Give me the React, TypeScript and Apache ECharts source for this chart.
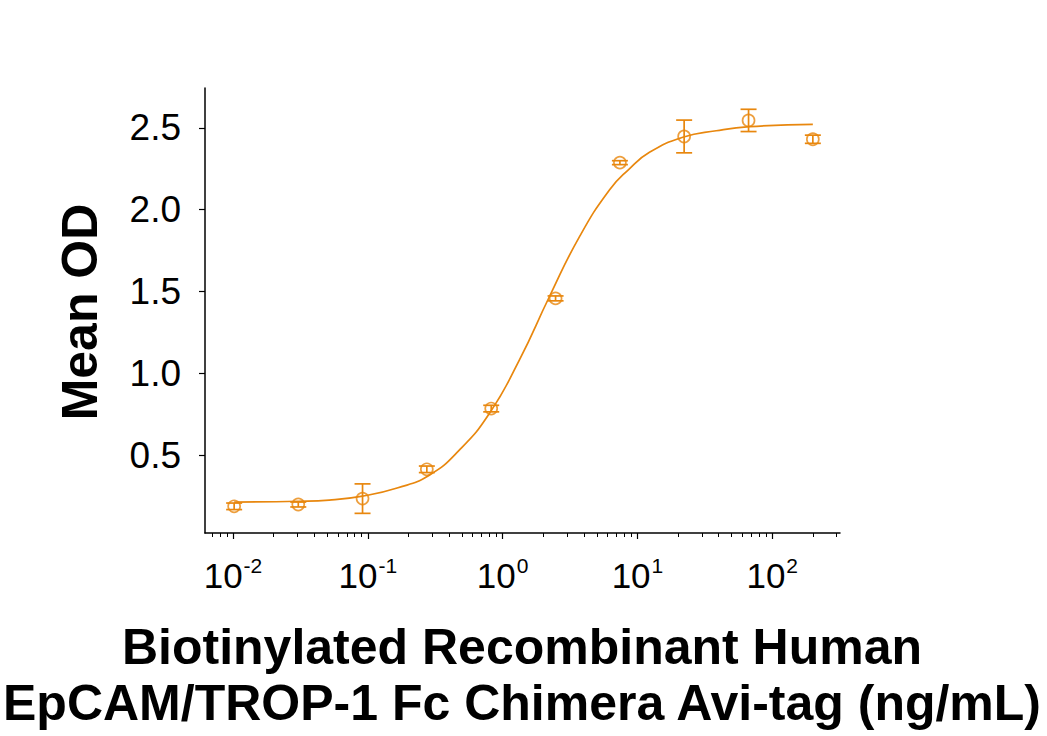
import React, { useEffect, useRef } from "react";
import * as echarts from "echarts";

// ---- Data ----
const concentrations = [0.0102, 0.0305, 0.0914, 0.274, 0.823, 2.47, 7.41, 22.2, 66.7, 200];
const meanOD = [0.188, 0.199, 0.235, 0.414, 0.785, 1.458, 2.287, 2.447, 2.545, 2.43];
const errorOD = [0.02, 0.015, 0.09, 0.02, 0.02, 0.015, 0.012, 0.1, 0.068, 0.025];

const curveX = [0.0102, 0.0305, 0.0517, 0.0914, 0.165, 0.2856, 0.4771, 0.797, 1.33, 2.222, 3.71, 6.197, 8.6, 12.28, 21.7, 38.4, 67.9, 200];
const curveY = [0.214, 0.219, 0.226, 0.25, 0.3, 0.378, 0.531, 0.755, 1.081, 1.468, 1.834, 2.12, 2.245, 2.35, 2.442, 2.482, 2.507, 2.521];

const yTicks = [0.5, 1.0, 1.5, 2.0, 2.5];
const xMajorTicks = [0.01, 0.1, 1, 10, 100];
const xMinorTicks = [
  0.007, 0.008, 0.009,
  0.02, 0.03, 0.04, 0.05, 0.06, 0.07, 0.08, 0.09,
  0.2, 0.3, 0.4, 0.5, 0.6, 0.7, 0.8, 0.9,
  2, 3, 4, 5, 6, 7, 8, 9,
  20, 30, 40, 50, 60, 70, 80, 90,
  200, 300,
];

const yTitle = "Mean OD";
const xTitleLines = ["Biotinylated Recombinant Human", "EpCAM/TROP-1 Fc Chimera Avi-tag (ng/mL)"];

const ORANGE = "#E8870E";
const FONT = '"Liberation Sans", Arial, sans-serif';

export default function App() {
  const ref = useRef<HTMLDivElement>(null);

  useEffect(() => {
    if (!ref.current) return;
    const chart = echarts.init(ref.current, undefined, { renderer: "svg" });

    const points = concentrations.map((c, i) => [c, meanOD[i]]);
    const errData = concentrations.map((c, i) => [c, meanOD[i], errorOD[i]]);
    const curve = curveX.map((c, i) => [c, curveY[i]]);

    const option: any = {
      animation: false,
      backgroundColor: "#ffffff",
      grid: { left: 205, right: 207, top: 88, bottom: 203, containLabel: false },
      xAxis: [
        {
          type: "log",
          logBase: 10,
          min: 0.0062,
          max: 318,
          axisLine: { show: true, lineStyle: { color: "#000", width: 1.5 } },
          axisTick: { show: true, length: 6, lineStyle: { color: "#000", width: 1.2 }, customValues: xMajorTicks },
          axisLabel: {
            customValues: xMajorTicks,
            margin: 22,
            formatter: (v: number) => `{b|10}{s|${Math.round(Math.log10(v))}}`,
            rich: {
              b: { fontSize: 35, fontFamily: FONT, color: "#000", lineHeight: 40 },
              s: { fontSize: 21, fontFamily: FONT, color: "#000", verticalAlign: "top", lineHeight: 22, padding: [0, 0, 0, 1] },
            },
          },
          splitLine: { show: false },
          minorTick: { show: false },
        },
        {
          type: "log",
          logBase: 10,
          min: 0.0062,
          max: 318,
          position: "bottom",
          axisLine: { show: false },
          axisTick: { show: true, length: 4, lineStyle: { color: "#000", width: 1 }, customValues: xMinorTicks },
          axisLabel: { show: false },
          splitLine: { show: false },
        },
      ],
      yAxis: {
        type: "value",
        min: 0.025,
        max: 2.743,
        axisLine: { show: true, lineStyle: { color: "#000", width: 1.5 } },
        axisTick: { show: true, length: 6, lineStyle: { color: "#000", width: 1.2 }, customValues: yTicks },
        axisLabel: {
          customValues: yTicks,
          margin: 24,
          fontSize: 37,
          fontFamily: FONT,
          color: "#000",
          formatter: (v: number) => v.toFixed(1),
        },
        splitLine: { show: false },
      },
      graphic: [
        {
          type: "text",
          x: 80,
          y: 312,
          rotation: Math.PI / 2,
          style: {
            text: yTitle,
            fontSize: 50,
            fontWeight: "bold",
            fontFamily: FONT,
            fill: "#000",
            align: "center",
            verticalAlign: "middle",
          },
        },
        {
          type: "text",
          x: 522,
          y: 647,
          style: {
            text: xTitleLines[0],
            fontSize: 50,
            fontWeight: "bold",
            fontFamily: FONT,
            fill: "#000",
            align: "center",
            verticalAlign: "middle",
          },
        },
        {
          type: "text",
          x: 522,
          y: 703,
          style: {
            text: xTitleLines[1],
            fontSize: 50,
            fontWeight: "bold",
            fontFamily: FONT,
            fill: "#000",
            align: "center",
            verticalAlign: "middle",
          },
        },
      ],
      series: [
        {
          type: "line",
          data: curve,
          smooth: 0.5,
          showSymbol: false,
          symbol: "none",
          lineStyle: { color: ORANGE, width: 1.7 },
          z: 2,
        },
        {
          type: "scatter",
          data: points,
          symbol: "circle",
          symbolSize: 12,
          itemStyle: { color: "rgba(0,0,0,0)", borderColor: ORANGE, borderWidth: 1.7 },
          z: 3,
        },
        {
          type: "custom",
          data: errData,
          renderItem: (params: any, api: any) => {
            const x = api.value(0);
            const y = api.value(1);
            const e = api.value(2);
            const top = api.coord([x, y + e]);
            const bot = api.coord([x, y - e]);
            const hw = 8;
            const st = { stroke: ORANGE, lineWidth: 1.7 };
            return {
              type: "group",
              children: [
                { type: "line", shape: { x1: top[0], y1: top[1], x2: bot[0], y2: bot[1] }, style: st },
                { type: "line", shape: { x1: top[0] - hw, y1: top[1], x2: top[0] + hw, y2: top[1] }, style: st },
                { type: "line", shape: { x1: bot[0] - hw, y1: bot[1], x2: bot[0] + hw, y2: bot[1] }, style: st },
              ],
            };
          },
          z: 4,
        },
      ],
    };

    chart.setOption(option);
    return () => chart.dispose();
  }, []);

  return (
    <div
      ref={ref}
      style={{ position: "fixed", left: 0, top: 0, width: 1047, height: 736, background: "#fff" }}
    />
  );
}
